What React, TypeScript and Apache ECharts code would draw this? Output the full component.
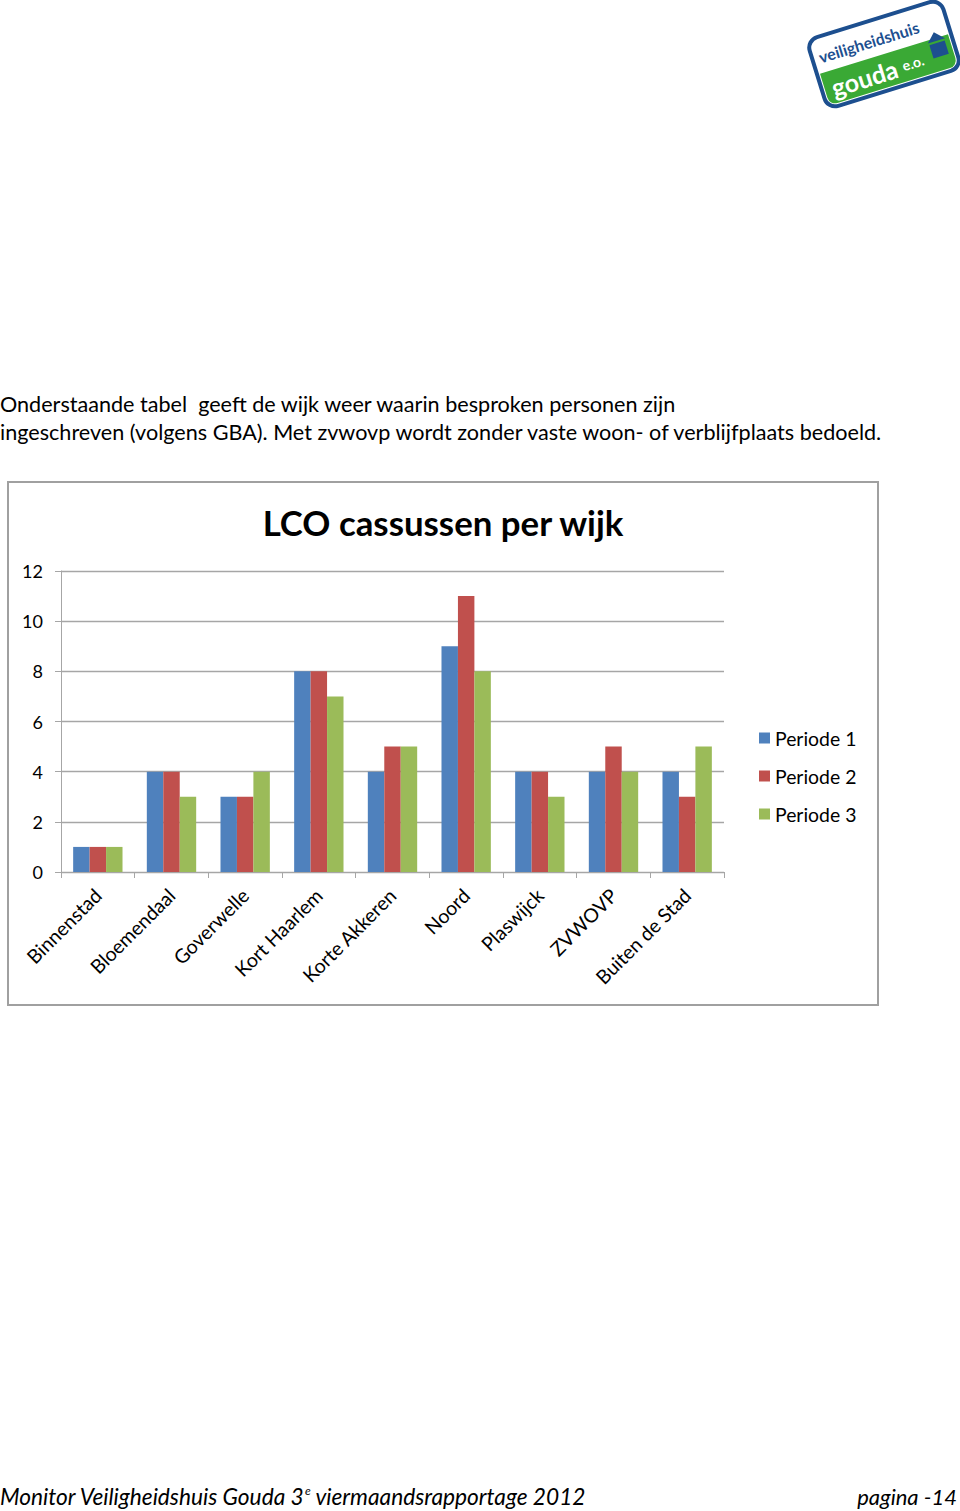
import React, { useEffect, useRef } from "react";
import * as echarts from "echarts";

const categories = ["Binnenstad", "Bloemendaal", "Goverwelle", "Kort Haarlem", "Korte Akkeren", "Noord", "Plaswijck", "ZVWOVP", "Buiten de Stad"];
const periode1 = [1, 4, 3, 8, 4, 9, 4, 4, 4];
const periode2 = [1, 4, 3, 8, 5, 11, 4, 5, 3];
const periode3 = [1, 3, 4, 7, 5, 8, 3, 4, 5];
const seriesNames = ["Periode 1", "Periode 2", "Periode 3"];
const colors = ["#4f81bd", "#c0504d", "#9bbb59"];

const FONT = "Lato, 'Open Sans', sans-serif";

export default function App() {
  const ref = useRef<HTMLDivElement>(null);
  useEffect(() => {
    if (!ref.current) return;
    const chart = echarts.init(ref.current, null, { renderer: "svg" });
    const data = [periode1, periode2, periode3];
    chart.setOption({
      animation: false,
      color: colors,
      textStyle: { fontFamily: FONT },
      grid: { left: 61, right: 236, top: 571, bottom: 639, containLabel: false },
      legend: {
        orient: "vertical",
        left: 754,
        top: 723,
        itemWidth: 11,
        itemHeight: 11,
        itemGap: 18,
        icon: "rect",
        textStyle: { fontSize: 19.4, color: "#000", fontFamily: FONT, lineHeight: 20 },
        data: seriesNames,
      },
      xAxis: {
        type: "category",
        data: categories,
        axisLine: { lineStyle: { color: "#a6a6a6", width: 1 } },
        axisTick: { show: true, length: 6, lineStyle: { color: "#a6a6a6" } },
        axisLabel: { rotate: 45, interval: 0, fontSize: 19.5, color: "#000", margin: 20, fontFamily: FONT },
      },
      yAxis: {
        type: "value",
        min: 0,
        max: 12,
        interval: 2,
        axisLine: { show: true, lineStyle: { color: "#a6a6a6" } },
        axisTick: { show: true, length: 6, lineStyle: { color: "#a6a6a6" } },
        splitLine: { lineStyle: { color: "#a6a6a6", width: 1.3 } },
        axisLabel: { fontSize: 18, color: "#000", margin: 18, fontFamily: FONT },
      },
      series: data.map((d, i) => ({
        name: seriesNames[i],
        type: "bar",
        data: d,
        barGap: "0%",
        barCategoryGap: "33%",
      })),
      graphic: [
        {
          type: "rect",
          shape: { x: 8, y: 482, width: 870, height: 523 },
          style: { fill: "none", stroke: "#a0a0a0", lineWidth: 2 },
          z: -1,
        },
        {
          type: "text",
          x: 443,
          y: 522,
          style: {
            text: "LCO cassussen per wijk",
            font: `bold 34.8px ${FONT}`,
            fill: "#000",
            align: "center",
            verticalAlign: "middle",
          },
        },
        {
          type: "text",
          x: 0,
          y: 404,
          style: {
            text: "Onderstaande tabel  geeft de wijk weer waarin besproken personen zijn",
            font: `21.6px ${FONT}`,
            fill: "#000",
            verticalAlign: "middle",
          },
        },
        {
          type: "text",
          x: 0,
          y: 432,
          style: {
            text: "ingeschreven (volgens GBA). Met zvwovp wordt zonder vaste woon- of verblijfplaats bedoeld.",
            font: `21.6px ${FONT}`,
            fill: "#000",
            verticalAlign: "middle",
          },
        },
        {
          type: "text",
          x: 0,
          y: 1496,
          style: {
            text: "{a|Monitor Veiligheidshuis Gouda 3}{s|e}{a| viermaandsrapportage 2012}",
            verticalAlign: "middle",
            rich: {
              a: { font: `italic 22.7px ${FONT}`, fill: "#000", verticalAlign: "bottom" },
              s: { font: `italic 12px ${FONT}`, fill: "#000", verticalAlign: "top" },
            },
          },
        },
        {
          type: "text",
          x: 957,
          y: 1496,
          style: {
            text: "pagina -14",
            font: `italic 22px ${FONT}`,
            fill: "#000",
            align: "right",
            verticalAlign: "middle",
          },
        },
        {
          type: "group",
          x: 884,
          y: 54,
          rotation: 0.3,
          children: [
            {
              type: "rect",
              shape: { x: -70, y: -36, width: 140, height: 72, r: 11 },
              style: { fill: "#ffffff", stroke: "#1d4f8f", lineWidth: 4 },
            },
            {
              type: "rect",
              shape: { x: -67, y: 0, width: 134, height: 33, r: [0, 0, 8, 8] },
              style: { fill: "#3aa935" },
            },
            {
              type: "text",
              x: -63,
              y: -16,
              style: { text: "veiligheidshuis", font: `bold 16px ${FONT}`, fill: "#1d4f8f", verticalAlign: "middle" },
            },
            {
              type: "text",
              x: -60,
              y: 17,
              style: { text: "gouda", font: `bold 25px ${FONT}`, fill: "#ffffff", verticalAlign: "middle" },
            },
            {
              type: "text",
              x: 14,
              y: 17,
              style: { text: "e.o.", font: `bold 14px ${FONT}`, fill: "#ffffff", verticalAlign: "middle" },
            },
            {
              type: "polygon",
              shape: { points: [[45, 3], [54, -6], [63, 3]] },
              style: { fill: "#1d4f8f" },
            },
            {
              type: "rect",
              shape: { x: 46, y: 5, width: 16, height: 14 },
              style: { fill: "#1d4f8f" },
            },
          ],
        },
      ],
    });
    return () => chart.dispose();
  }, []);
  return (
    <div
      ref={ref}
      style={{ position: "absolute", left: 0, top: 0, width: 960, height: 1511, background: "#fff" }}
    />
  );
}
